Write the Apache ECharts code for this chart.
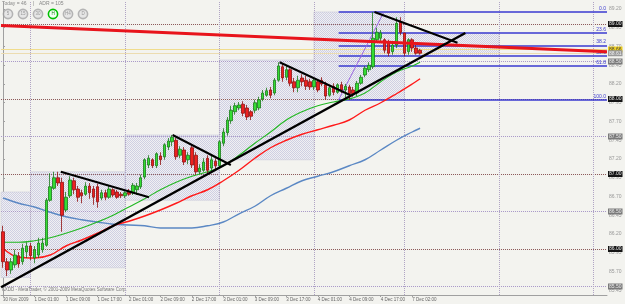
<!DOCTYPE html>
<html><head><meta charset="utf-8">
<script src="https://cdn.jsdelivr.net/npm/echarts@6/dist/echarts.min.js"></script>
<style>html,body{margin:0;padding:0;background:#f3f3ef}#c{width:625px;height:304px}</style>
</head><body><div id="c"></div>
<script>
// ---- hourly candles (index 0 = 30 Nov 2009 17:00) ----
const opens = [86.23,85.83,85.72,85.79,85.91,85.83,85.96,86.04,85.88,85.92,
85.99,86.05,86.65,86.81,86.95,86.89,86.52,86.71,86.91,86.80,
86.75,86.73,86.84,86.80,86.83,86.68,86.75,86.69,86.79,86.76,
86.73,86.71,86.77,86.75,86.79,86.83,86.96,87.12,87.19,87.11,
87.24,87.23,87.36,87.43,87.45,87.25,87.32,87.19,87.35,87.25,
87.03,87.05,87.21,87.08,87.17,87.11,87.41,87.55,87.71,87.83,
87.88,87.93,87.88,87.83,87.85,87.88,88.00,88.05,88.12,88.08,
88.25,88.43,88.29,88.39,88.23,88.15,88.28,88.25,88.23,88.16,
88.23,88.25,88.19,88.05,88.17,88.09,88.19,88.12,88.16,88.12,
88.08,88.21,88.32,88.39,88.43,88.79,88.81,88.79,88.76,88.63,
88.72,89.03,88.88,88.63,88.79,88.68,88.65];
const closes = [85.83,85.72,85.83,85.92,85.80,86.01,86.04,85.91,85.99,86.08,
86.08,86.65,86.83,86.95,86.88,86.45,86.69,86.92,86.79,86.69,
86.71,86.84,86.75,86.69,86.63,86.75,86.69,86.80,86.72,86.69,
86.71,86.75,86.73,86.85,86.84,86.95,87.19,87.21,87.11,87.27,
87.19,87.39,87.44,87.49,87.23,87.33,87.16,87.25,87.12,87.03,
87.08,87.16,87.05,87.19,87.11,87.43,87.56,87.72,87.85,87.91,
87.92,87.81,87.76,87.77,87.95,87.99,88.08,88.11,88.05,88.25,
88.44,88.28,88.39,88.21,88.15,88.25,88.23,88.17,88.16,88.25,
88.12,88.20,88.04,88.15,88.09,88.19,88.12,88.17,88.07,88.07,
88.21,88.29,88.41,88.45,88.81,88.89,88.88,88.65,88.61,88.72,
89.01,88.89,88.61,88.79,88.68,88.61,88.61];
const lows = [85.75,85.64,85.67,85.75,85.75,85.79,85.88,85.85,85.81,85.88,
85.95,86.03,86.63,86.79,86.84,86.23,86.49,86.68,86.73,86.63,
86.61,86.71,86.67,86.59,86.55,86.65,86.65,86.67,86.69,86.67,
86.68,86.68,86.71,86.72,86.72,86.80,86.93,87.08,87.08,87.08,
87.12,87.19,87.32,87.37,87.19,87.21,87.12,87.13,87.08,86.99,
87.00,87.03,86.99,87.03,87.05,87.08,87.37,87.51,87.67,87.79,
87.85,87.77,87.72,87.72,87.81,87.85,87.97,88.03,88.01,88.05,
88.23,88.23,88.25,88.17,88.09,88.09,88.17,88.12,88.12,88.12,
88.09,88.17,87.99,88.03,88.05,88.07,88.08,88.00,87.99,88.03,
88.04,88.19,88.29,88.36,88.40,88.76,88.76,88.61,88.57,88.59,
88.68,88.85,88.57,88.59,88.63,88.59,88.59];
const highs = [86.31,85.88,85.88,85.99,85.96,86.07,86.09,86.08,86.04,86.15,
86.15,86.68,87.01,87.03,87.03,86.95,86.76,86.97,86.95,86.84,
86.79,86.89,86.88,86.84,86.87,86.79,86.79,86.84,86.81,86.79,
86.76,86.77,86.80,86.88,86.88,86.99,87.21,87.25,87.21,87.29,
87.29,87.41,87.48,87.52,87.48,87.37,87.36,87.29,87.39,87.29,
87.13,87.21,87.25,87.24,87.21,87.45,87.61,87.76,87.91,87.95,
87.96,87.97,87.92,87.85,87.99,88.03,88.12,88.15,88.16,88.28,
88.49,88.47,88.45,88.41,88.28,88.31,88.33,88.31,88.27,88.28,
88.25,88.29,88.23,88.17,88.21,88.21,88.23,88.20,88.19,88.16,
88.24,88.32,88.44,88.49,89.16,88.95,88.92,88.81,88.79,88.76,
89.09,89.09,88.88,88.81,88.81,88.72,88.67];

// ---- moving averages, read every 4 candles ----
const maIdx   = [0,4,8,12,16,20,24,28,32,36,40,44,48,52,56,60,64,68,72,76,80,84,88,92,96,100,104,106];
const maGreen = [86.09,86.09,86.11,86.15,86.21,86.28,86.36,86.45,86.56,86.67,86.79,86.89,86.97,87.03,87.11,87.25,87.41,87.56,87.72,87.83,87.91,87.96,88.00,88.08,88.23,88.36,88.44,88.49];
const maRed   = [86.01,85.89,85.88,85.92,86.04,86.12,86.21,86.31,86.37,86.44,86.52,86.61,86.71,86.79,86.91,87.05,87.21,87.35,87.45,87.53,87.59,87.65,87.72,87.85,87.95,88.07,88.20,88.27];
const maBlue  = [86.68,86.61,86.56,86.49,86.43,86.39,86.36,86.33,86.32,86.31,86.28,86.28,86.28,86.31,86.36,86.47,86.57,86.71,86.81,86.91,86.97,87.03,87.11,87.19,87.32,87.45,87.56,87.61];

// ---- axes ----
const timeLabelIdx = [0,8,16,24,32,40,48,56,64,72,80,88,96,104];
const timeLabels = ['30 Nov 2009','1 Dec 01:00','1 Dec 09:00','1 Dec 17:00','2 Dec 01:00','2 Dec 09:00','2 Dec 17:00','3 Dec 01:00','3 Dec 09:00','3 Dec 17:00','4 Dec 01:00','4 Dec 09:00','4 Dec 17:00','7 Dec 02:00'];
const priceTicks = [85.45,85.70,85.95,86.20,86.45,86.70,86.95,87.20,87.45,87.70,87.95,88.20,88.45,88.70,88.95,89.20];
const roundLevels = [89.00,88.50,88.00,87.50,87.00,86.50,86.00,85.50];
const daySeparators = [7,31,55,79,102,126,150];

// ---- daily range boxes ----
const dayStart = [-0.5,7,31,55,79,102];
const dayEnd   = [7,31,55,79,102,126];
const dayHigh  = [86.76,87.03,87.52,88.52,89.16,88.88];
const dayLow   = [85.62,85.75,86.65,87.19,87.99,88.57];

// ---- drawn objects (index, price) ----
const trendMain = [[-0.5,85.49],[117.5,88.88]];
const tri1 = [[14.7,87.03],[37.1,86.69]];
const tri2 = [[43.1,87.52],[57.9,87.12]];
const tri3 = [[70.3,88.49],[88.3,88.05]];
const tri4 = [[94.4,89.16],[115.5,88.75]];
const redLine = [[-0.5,88.98],[153.5,88.63]];
const fibBase = [[85.3,87.99],[96.7,89.15]];
const fibHigh = 89.16, fibLow = 87.99, fibStart = 85.3, fibEnd = 153.5;
const fibLevels = [0,23.6,38.2,50,61.8,100];
const yellowLevel = 88.66, bidLevel = 88.61;

// hatch pattern for the daily boxes
const pat = document.createElement('canvas');
pat.width = 2; pat.height = 2;
const pc = pat.getContext('2d');
pc.fillStyle = '#f0f0f2'; pc.fillRect(0,0,2,2);
pc.fillStyle = '#cfcfe3'; pc.fillRect(0,0,1,1); pc.fillRect(1,1,1,1);

const chart = echarts.init(document.getElementById('c'));
const F = 'Liberation Sans, Arial, sans-serif';
const pts = (a)=>a.map(p=>[p[0],p[1]]);
const lineS = (d,color,w,z)=>({type:'line',data:pts(d),symbol:'none',silent:true,z:z,lineStyle:{color:color,width:w},animation:false});

const buttons = ['5','15','30','H','H4','D'];
const graphics = [
  {type:'text',left:2,top:1,style:{text:'Today = 46',fontSize:5,fill:'#888',fontFamily:F}},
  {type:'text',left:33,top:1,style:{text:'|',fontSize:5,fill:'#888',fontFamily:F}},
  {type:'text',left:39,top:1,style:{text:'ADR = 105',fontSize:5,fill:'#888',fontFamily:F}},
  {type:'text',left:2,top:287,style:{text:'FXDD - MetaTrader, \u00a9 2001-2009 MetaQuotes Software Corp.',fontSize:4.5,fill:'#777',fontFamily:F}}
];
buttons.forEach((b,k)=>{
  const cx = 8 + k*15, on = b==='H';
  graphics.push({type:'circle',shape:{cx:cx,cy:14,r:4.6},style:{fill:on?'#f4fff4':'#e6e6e6',stroke:on?'#00c000':'#b4b4b4',lineWidth:1.6}});
  graphics.push({type:'text',x:cx,y:14,style:{text:b,fontSize:4.5,fill:on?'#108010':'#999',align:'center',verticalAlign:'middle',fontFamily:F}});
});

const option = {
  animation:false,
  backgroundColor:'#f3f3ef',
  grid:{left:0,right:18,top:2,bottom:9,show:false},
  xAxis:{type:'value',min:-0.5,max:153.5,
    axisLine:{show:true,lineStyle:{color:'#a0a0a0'}},
    axisTick:{show:true,customValues:timeLabelIdx,length:2,lineStyle:{color:'#a0a0a0'}},
    splitLine:{show:false},
    axisLabel:{customValues:timeLabelIdx,fontSize:4.5,color:'#666',margin:2,align:'left',fontFamily:F,
      formatter:v=>timeLabels[timeLabelIdx.indexOf(Math.round(v))]||''}},
  yAxis:{type:'value',position:'right',min:85.3867,max:89.2933,
    axisLine:{show:true,lineStyle:{color:'#a0a0a0'}},
    axisTick:{show:true,customValues:priceTicks,length:2,lineStyle:{color:'#a0a0a0'}},
    splitLine:{show:false},
    axisLabel:{customValues:priceTicks,fontSize:5,color:'#999',margin:2,fontFamily:F,formatter:v=>v.toFixed(2)}},
  graphic:graphics,
  series:[
    {type:'candlestick',z:5,barWidth:3,silent:true,
     encode:{x:0,y:[1,2,3,4]},
     data:opens.map((o,i)=>[i,o,closes[i],lows[i],highs[i]]),
     itemStyle:{color:'#33dd33',color0:'#ee2020',borderColor:'#1a7a1a',borderColor0:'#901010',borderWidth:0.8},
     markArea:{silent:true,z:1,itemStyle:{color:{image:pat,repeat:'repeat'},borderColor:'#cdcdda',borderWidth:0.6},
       data:dayStart.map((s,k)=>[{coord:[s,dayHigh[k]]},{coord:[dayEnd[k],dayLow[k]]}])}},
    {type:'line',z:3,symbol:'none',silent:true,smooth:0.4,data:maIdx.map((x,k)=>[x,maBlue[k]]),lineStyle:{color:'#5b88c4',width:1.4},
     markLine:{silent:true,z:2,symbol:'none',animation:false,
       lineStyle:{type:'dotted',width:1},
       label:{show:true,position:'end',distance:1,fontSize:5,color:'#e8e8e8',padding:[1,1,0,1],fontFamily:F,formatter:p=>p.value.toFixed(2)},
       data:roundLevels.map((v,k)=>({yAxis:v,lineStyle:{color:k%2?'#a898c8':'#8a5656'},label:{backgroundColor:k%2?'#7a7a7a':'#151515'}}))}},
    {type:'line',z:3,symbol:'none',silent:true,smooth:0.4,data:maIdx.map((x,k)=>[x,maRed[k]]),lineStyle:{color:'#ff1a1a',width:1.4},
     markLine:{silent:true,z:2,symbol:'none',animation:false,label:{show:false},
       lineStyle:{type:'dotted',width:1,color:'#b0a4c4'},
       data:daySeparators.map(v=>({xAxis:v}))}},
    {type:'line',z:3,symbol:'none',silent:true,smooth:0.4,data:maIdx.map((x,k)=>[x,maGreen[k]]),lineStyle:{color:'#22b822',width:1.1},
     markLine:{silent:true,z:3,symbol:'none',animation:false,
       lineStyle:{type:'solid',width:1.5,color:'#3a3ad0'},
       label:{show:true,position:'insideEndTop',distance:1,fontSize:5,color:'#3a3ad0',formatter:'{b}',fontFamily:F},
       data:fibLevels.map(l=>{const p=fibHigh-(fibHigh-fibLow)*l/100;return [{name:l.toFixed(1),coord:[fibStart,p]},{coord:[fibEnd,p]}];})}},
    lineS(fibBase,'#9a66e0',1,4),
    Object.assign(lineS(redLine,'#e8141c',3,6),{
     markLine:{silent:true,z:2,symbol:'none',animation:false,
       label:{show:true,position:'end',distance:1,fontSize:5,padding:[1,1,0,1],fontFamily:F,formatter:p=>p.value.toFixed(2)},
       data:[{yAxis:yellowLevel,lineStyle:{color:'#f0dc8c',width:1,type:'solid'},label:{backgroundColor:'#f0d020',color:'#444'}},
             {yAxis:bidLevel,lineStyle:{color:'#ecdcb0',width:1,type:'solid'},label:{backgroundColor:'#9a9a9a',color:'#eee'}}]}}),
    lineS(trendMain,'#000',2.5,7),
    lineS(tri1,'#000',2,7),
    lineS(tri2,'#000',2,7),
    lineS(tri3,'#000',2,7),
    lineS(tri4,'#000',2,7)
  ]
};
chart.setOption(option);
</script></body></html>
